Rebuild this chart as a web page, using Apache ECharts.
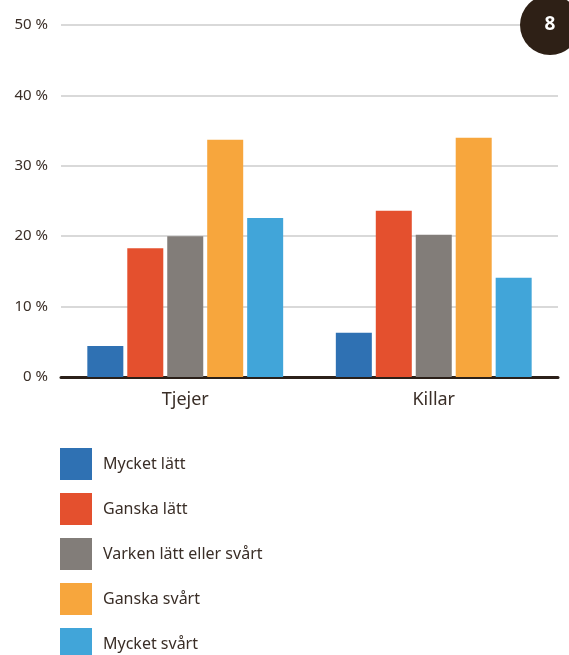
<!DOCTYPE html>
<html>
<head>
<meta charset="utf-8">
<script src="https://cdn.jsdelivr.net/npm/echarts@6/dist/echarts.min.js"></script>
<style>
  html, body { margin: 0; padding: 0; background: #fff; }
  #chart { width: 569px; height: 655px; }
</style>
</head>
<body>
<div id="chart"></div>
<script>
// grupper och svarsalternativ
const categories = ["Tjejer", "Killar"];
const seriesNames = ["Mycket lätt", "Ganska lätt", "Varken lätt eller svårt", "Ganska svårt", "Mycket svårt"];
const mycketLatt = [4.4, 6.3];
const ganskaLatt = [18.3, 23.6];
const varken = [20.0, 20.2];
const ganskaSvart = [33.7, 34.0];
const mycketSvart = [22.6, 14.1];
const yTicks = [0, 10, 20, 30, 40, 50];

const colors = ["#2f71b3", "#e4502e", "#827d79", "#f7a63d", "#41a5d9"];
const values = [mycketLatt, ganskaLatt, varken, ganskaSvart, mycketSvart];
const textColor = "#3a2e27";
const font = "Noto Sans";

const chart = echarts.init(document.getElementById("chart"));
const option = {
  animation: false,
  color: colors,
  textStyle: { fontFamily: font },
  grid: { left: 61, right: 11, top: 25, bottom: 278, containLabel: false },
  legend: {
    orient: "vertical",
    left: 60,
    top: 448,
    height: 220,
    padding: 0,
    itemWidth: 32,
    itemHeight: 32,
    itemGap: 13,
    icon: "rect",
    selectedMode: false,
    data: seriesNames,
    textStyle: { fontSize: 16, color: textColor, fontFamily: font, padding: [2, 0, 0, 6] },
  },
  xAxis: {
    type: "category",
    data: categories,
    axisTick: { show: false },
    axisLine: { lineStyle: { color: "#2b2019", width: 3 } },
    axisLabel: { fontSize: 18, color: textColor, margin: 14, fontFamily: font },
  },
  yAxis: {
    type: "value",
    min: yTicks[0],
    max: yTicks[yTicks.length - 1],
    interval: 10,
    axisLine: { show: false },
    axisTick: { show: false },
    axisLabel: { fontSize: 15, color: textColor, margin: 13, fontFamily: font, formatter: "{value} %" },
    splitLine: { lineStyle: { color: "#cccccc", width: 1.5 } },
  },
  series: seriesNames.map((name, i) => ({
    name: name,
    type: "bar",
    data: values[i],
    barWidth: 36,
    barGap: "11%",
    itemStyle: { color: colors[i] },
  })),
  graphic: [
    {
      type: "circle",
      shape: { cx: 550, cy: 25, r: 30 },
      style: { fill: "#2e2016" },
      z: 100,
    },
    {
      type: "text",
      x: 550,
      y: 25,
      style: { text: "8", fill: "#fff", fontSize: 19, fontWeight: "bold", fontFamily: font, align: "center", verticalAlign: "middle" },
      z: 101,
    },
  ],
};
chart.setOption(option);
</script>
</body>
</html>
